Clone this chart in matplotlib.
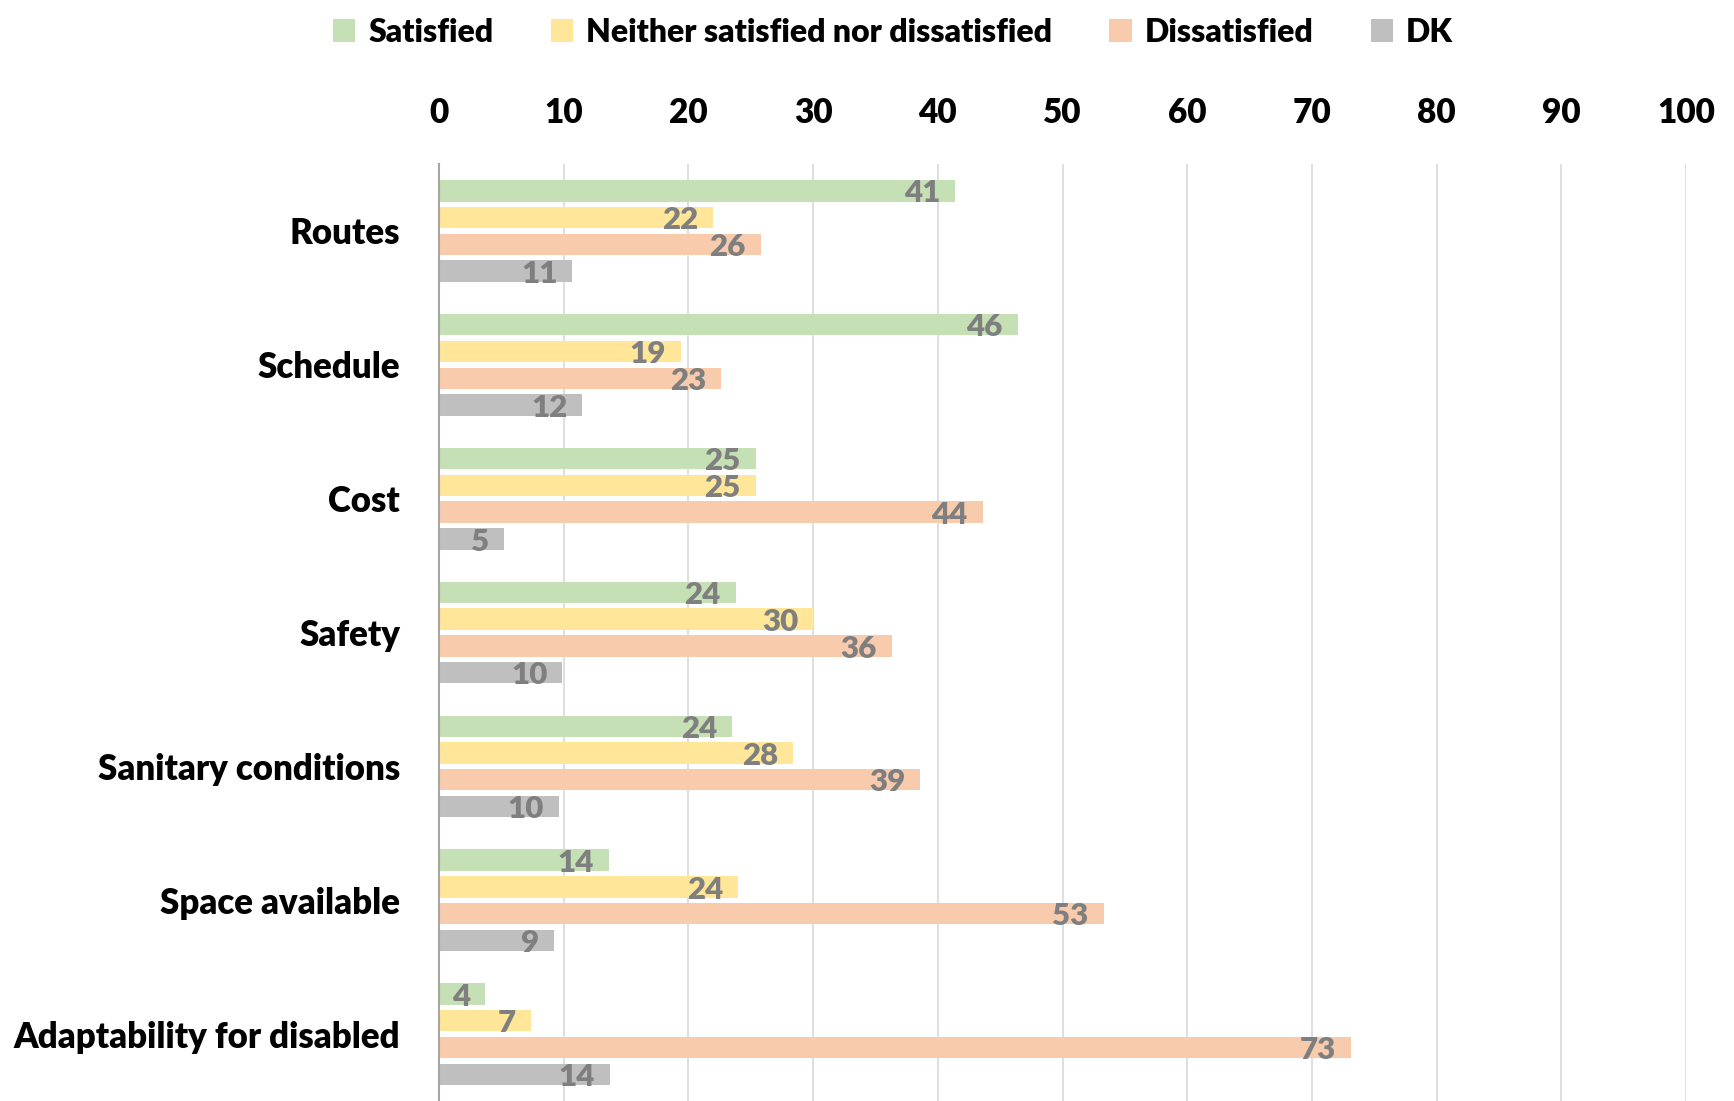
import numpy as np
import matplotlib.pyplot as plt
from matplotlib.patches import Patch

plt.rcParams['font.family'] = ['Lato', 'DejaVu Sans']
plt.rcParams['font.weight'] = 'heavy'

categories = ['Routes', 'Schedule', 'Cost', 'Safety', 'Sanitary conditions',
              'Space available', 'Adaptability for disabled']
series_names = ['Satisfied', 'Neither satisfied nor dissatisfied', 'Dissatisfied', 'DK']
satisfied = [41.4, 46.4, 25.4, 23.8, 23.5, 13.6, 3.7]
neither = [22.0, 19.4, 25.4, 30.0, 28.4, 24.0, 7.4]
dissatisfied = [25.8, 22.6, 43.6, 36.3, 38.6, 53.3, 73.1]
dk = [10.7, 11.5, 5.2, 9.9, 9.6, 9.2, 13.7]
xticks = [0, 10, 20, 30, 40, 50, 60, 70, 80, 90, 100]

colors = ['#C5E0B4', '#FFE699', '#F8CBAD', '#BFBFBF']
label_color = '#7F7F7F'

fig = plt.figure(figsize=(17.34, 11.01), dpi=100)
ax = fig.add_axes([0.2532, 0.0, 0.7191, 0.851])

y = np.arange(len(categories))
slot = 0.2
bar_h = 0.16
all_series = [satisfied, neither, dissatisfied, dk]
for k, (vals, col) in enumerate(zip(all_series, colors)):
    pos = y - 0.3 + k * slot
    ax.barh(pos, vals, height=bar_h, color=col, zorder=2)
    for p, v in zip(pos, vals):
        ax.text(v - 1.2, p + 0.02, f'{round(v)}', ha='right', va='center',
                fontsize=22.5, color=label_color, fontweight='heavy', zorder=3)

ax.set_xlim(0, 100)
ax.set_ylim(6.5, -0.5)
ax.set_yticks(y)
ax.set_yticklabels(categories, fontsize=25, fontweight='heavy')
ax.set_xticks(xticks)
ax.xaxis.tick_top()
ax.tick_params(axis='x', length=0, pad=25, labelsize=24)
ax.tick_params(axis='y', length=0, pad=28)
ax.grid(axis='x', color='#D9D9D9', linewidth=1.2, zorder=0)
for s in ['top', 'right', 'bottom']:
    ax.spines[s].set_visible(False)
ax.spines['left'].set_color('#A6A6A6')
ax.spines['left'].set_linewidth(1.5)
ax.spines['left'].set_zorder(4)

handles = [Patch(facecolor=c, edgecolor='none') for c in colors]
fig.legend(handles, series_names, loc='upper center', bbox_to_anchor=(0.515, 1.01),
           ncol=4, frameon=False, fontsize=23, handlelength=0.7, handleheight=0.7,
           handletextpad=0.4, columnspacing=1.8)

fig.savefig('out.png', dpi=100)
